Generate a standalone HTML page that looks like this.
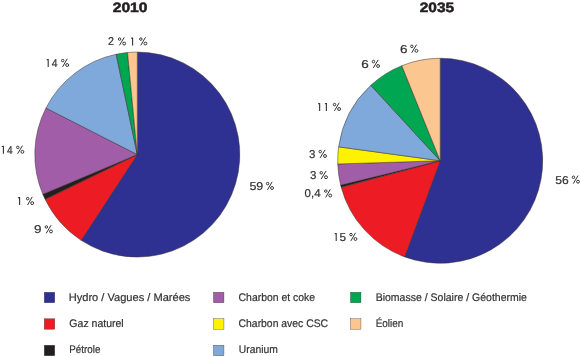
<!DOCTYPE html>
<html><head><meta charset="utf-8"><style>
html,body{margin:0;padding:0;background:#fff;width:580px;height:356px;overflow:hidden}
svg{display:block;font-family:"Liberation Sans",sans-serif;will-change:transform;text-rendering:geometricPrecision}
.lb{font-size:11.4px;fill:#333333;stroke:#333333;stroke-width:0.2px}
.i1{stroke:none}
.on{fill:#333333}
.pc{fill:none;stroke:#333333;stroke-width:1.0px}
.lg{font-size:11.0px;fill:#333333;stroke:#333333;stroke-width:0.2px}
.tt{font-size:13.6px;font-weight:bold;fill:#231f20;stroke:#231f20;stroke-width:0.5px}
</style></head><body>
<svg width="580" height="356" viewBox="0 0 580 356">
<g stroke="#3a2f2a" stroke-width="0.5" stroke-linejoin="round">
<path d="M137.30,154.55L137.30,52.05A102.5,102.5 0 1 1 81.17,240.32Z" fill="#2e3192"/>
<path d="M137.30,154.55L81.17,240.32A102.5,102.5 0 0 1 45.10,199.32Z" fill="#ed1c24"/>
<path d="M137.30,154.55L45.10,199.32A102.5,102.5 0 0 1 42.81,194.27Z" fill="#231f20"/>
<path d="M137.30,154.55L42.81,194.27A102.5,102.5 0 0 1 45.97,108.02Z" fill="#a25da8"/>
<path d="M137.30,154.55L45.97,108.02A102.5,102.5 0 0 1 116.16,54.25Z" fill="#7fa9db"/>
<path d="M137.30,154.55L116.16,54.25A102.5,102.5 0 0 1 127.56,52.51Z" fill="#00a651"/>
<path d="M137.30,154.55L127.56,52.51A102.5,102.5 0 0 1 137.30,52.05Z" fill="#fbc68f"/>
</g>
<g stroke="#3a2f2a" stroke-width="0.5" stroke-linejoin="round">
<path d="M440.20,160.75L440.20,58.25A102.5,102.5 0 1 1 404.64,256.88Z" fill="#2e3192"/>
<path d="M440.20,160.75L404.64,256.88A102.5,102.5 0 0 1 341.24,187.45Z" fill="#ed1c24"/>
<path d="M440.20,160.75L341.22,187.37A102.5,102.5 0 0 1 340.64,185.11Z" fill="#231f20"/>
<path d="M440.20,160.75L340.64,185.11A102.5,102.5 0 0 1 337.75,163.97Z" fill="#a25da8"/>
<path d="M440.20,160.75L337.75,163.97A102.5,102.5 0 0 1 338.65,146.84Z" fill="#fff200"/>
<path d="M440.20,160.75L338.65,146.84A102.5,102.5 0 0 1 370.82,85.30Z" fill="#7fa9db"/>
<path d="M440.20,160.75L370.82,85.30A102.5,102.5 0 0 1 401.80,65.71Z" fill="#00a651"/>
<path d="M440.20,160.75L401.80,65.71A102.5,102.5 0 0 1 440.20,58.25Z" fill="#fbc68f"/>
</g>
<text class="lb" x="107.97" y="45.40" textLength="5.93" lengthAdjust="spacingAndGlyphs">2</text>
<g class="pc"><circle cx="119.57" cy="39.08" r="1.25"/><circle cx="124.18" cy="43.52" r="1.45"/><path d="M119.42,45.40L124.28,37.30"/></g>
<path class="on" d="M131.00,37.75L132.40,37.40L133.15,37.40L133.15,45.40L132.05,45.40L132.05,38.70L131.00,38.70Z"/>
<g class="pc"><circle cx="140.85" cy="39.08" r="1.25"/><circle cx="145.40" cy="43.52" r="1.45"/><path d="M140.70,45.40L145.50,37.30"/></g>
<path class="on" d="M46.60,59.25L48.00,58.90L48.75,58.90L48.75,66.90L47.65,66.90L47.65,60.20L46.60,60.20Z"/>
<text class="lb" x="51.69" y="66.90" textLength="5.78" lengthAdjust="spacingAndGlyphs">4</text>
<g class="pc"><circle cx="62.71" cy="60.58" r="1.25"/><circle cx="67.15" cy="65.02" r="1.45"/><path d="M62.56,66.90L67.24,58.80"/></g>
<path class="on" d="M1.80,146.05L3.20,145.70L3.95,145.70L3.95,153.70L2.85,153.70L2.85,147.00L1.80,147.00Z"/>
<text class="lb" x="7.00" y="153.70" textLength="5.67" lengthAdjust="spacingAndGlyphs">4</text>
<g class="pc"><circle cx="17.77" cy="147.38" r="1.25"/><circle cx="22.38" cy="151.82" r="1.45"/><path d="M17.62,153.70L22.48,145.60"/></g>
<path class="on" d="M18.00,197.35L19.40,197.00L20.15,197.00L20.15,205.00L19.05,205.00L19.05,198.30L18.00,198.30Z"/>
<g class="pc"><circle cx="27.71" cy="198.68" r="1.25"/><circle cx="32.15" cy="203.12" r="1.45"/><path d="M27.56,205.00L32.24,196.90"/></g>
<text class="lb" x="34.13" y="233.30" textLength="7.50" lengthAdjust="spacingAndGlyphs">9</text>
<g class="pc"><circle cx="46.37" cy="226.98" r="1.25"/><circle cx="50.98" cy="231.42" r="1.45"/><path d="M46.22,233.30L51.08,225.20"/></g>
<text class="lb" x="249.40" y="189.90" textLength="13.85" lengthAdjust="spacingAndGlyphs">59</text>
<g class="pc"><circle cx="267.61" cy="183.58" r="1.25"/><circle cx="272.05" cy="188.02" r="1.45"/><path d="M267.46,189.90L272.14,181.80"/></g>
<text class="lb" x="400.13" y="52.70" textLength="7.50" lengthAdjust="spacingAndGlyphs">6</text>
<g class="pc"><circle cx="411.87" cy="46.38" r="1.25"/><circle cx="416.48" cy="50.82" r="1.45"/><path d="M411.72,52.70L416.58,44.60"/></g>
<text class="lb" x="361.33" y="67.90" textLength="7.50" lengthAdjust="spacingAndGlyphs">6</text>
<g class="pc"><circle cx="373.47" cy="61.58" r="1.25"/><circle cx="378.08" cy="66.02" r="1.45"/><path d="M373.32,67.90L378.18,59.80"/></g>
<path class="on" d="M318.05,103.25L319.45,102.90L320.20,102.90L320.20,110.90L319.10,110.90L319.10,104.20L318.05,104.20Z"/>
<path class="on" d="M324.80,103.25L326.20,102.90L326.95,102.90L326.95,110.90L325.85,110.90L325.85,104.20L324.80,104.20Z"/>
<g class="pc"><circle cx="334.55" cy="104.58" r="1.25"/><circle cx="339.10" cy="109.02" r="1.45"/><path d="M334.40,110.90L339.20,102.80"/></g>
<text class="lb" x="309.04" y="157.90" textLength="6.39" lengthAdjust="spacingAndGlyphs">3</text>
<g class="pc"><circle cx="320.24" cy="151.58" r="1.25"/><circle cx="325.01" cy="156.02" r="1.45"/><path d="M320.08,157.90L325.11,149.80"/></g>
<text class="lb" x="310.04" y="179.10" textLength="6.39" lengthAdjust="spacingAndGlyphs">3</text>
<g class="pc"><circle cx="321.24" cy="172.78" r="1.25"/><circle cx="326.01" cy="177.22" r="1.45"/><path d="M321.08,179.10L326.11,171.00"/></g>
<text class="lb" x="304.54" y="197.40" textLength="16.01" lengthAdjust="spacingAndGlyphs">0,4</text>
<g class="pc"><circle cx="325.81" cy="191.08" r="1.25"/><circle cx="330.25" cy="195.52" r="1.45"/><path d="M325.66,197.40L330.34,189.30"/></g>
<path class="on" d="M334.60,233.25L336.00,232.90L336.75,232.90L336.75,240.90L335.65,240.90L335.65,234.20L334.60,234.20Z"/>
<text class="lb" x="339.43" y="240.90" textLength="6.51" lengthAdjust="spacingAndGlyphs">5</text>
<g class="pc"><circle cx="351.01" cy="234.58" r="1.25"/><circle cx="355.45" cy="239.02" r="1.45"/><path d="M350.86,240.90L355.54,232.80"/></g>
<text class="lb" x="555.22" y="183.60" textLength="13.39" lengthAdjust="spacingAndGlyphs">56</text>
<g class="pc"><circle cx="573.45" cy="177.28" r="1.25"/><circle cx="578.00" cy="181.72" r="1.45"/><path d="M573.30,183.60L578.10,175.50"/></g>
<text class="tt" x="112.73" y="12.40" textLength="34.77" lengthAdjust="spacingAndGlyphs">2010</text>
<text class="tt" x="419.74" y="11.90" textLength="34.45" lengthAdjust="spacingAndGlyphs">2035</text>
<rect x="44.25" y="292.25" width="10.5" height="10.5" fill="#2e3192" stroke="#3a2f2a" stroke-width="0.35"/>
<rect x="44.25" y="318.75" width="10.5" height="10.5" fill="#ed1c24" stroke="#3a2f2a" stroke-width="0.35"/>
<rect x="44.25" y="345.25" width="10.5" height="10.5" fill="#231f20" stroke="#3a2f2a" stroke-width="0.35"/>
<rect x="213.45" y="292.25" width="10.5" height="10.5" fill="#a25da8" stroke="#3a2f2a" stroke-width="0.35"/>
<rect x="213.45" y="318.75" width="10.5" height="10.5" fill="#fff200" stroke="#3a2f2a" stroke-width="0.35"/>
<rect x="213.45" y="345.25" width="10.5" height="10.5" fill="#7fa9db" stroke="#3a2f2a" stroke-width="0.35"/>
<rect x="350.45" y="292.25" width="10.5" height="10.5" fill="#00a651" stroke="#3a2f2a" stroke-width="0.35"/>
<rect x="350.45" y="318.75" width="10.5" height="10.5" fill="#fbc68f" stroke="#3a2f2a" stroke-width="0.35"/>
<text class="lg" x="68.71" y="300.50" textLength="121.69" lengthAdjust="spacingAndGlyphs">Hydro / Vagues / Marées</text>
<text class="lg" x="69.37" y="326.90" textLength="54.36" lengthAdjust="spacingAndGlyphs">Gaz naturel</text>
<text class="lg" x="69.21" y="353.00" textLength="31.16" lengthAdjust="spacingAndGlyphs">Pétrole</text>
<text class="lg" x="238.58" y="300.50" textLength="76.42" lengthAdjust="spacingAndGlyphs">Charbon et coke</text>
<text class="lg" x="238.58" y="326.90" textLength="89.49" lengthAdjust="spacingAndGlyphs">Charbon avec CSC</text>
<text class="lg" x="238.87" y="353.00" textLength="39.04" lengthAdjust="spacingAndGlyphs">Uranium</text>
<text class="lg" x="375.66" y="300.50" textLength="151.32" lengthAdjust="spacingAndGlyphs">Biomasse / Solaire / Géothermie</text>
<text class="lg" x="375.70" y="326.90" textLength="27.69" lengthAdjust="spacingAndGlyphs">Éolien</text>
</svg>
</body></html>
